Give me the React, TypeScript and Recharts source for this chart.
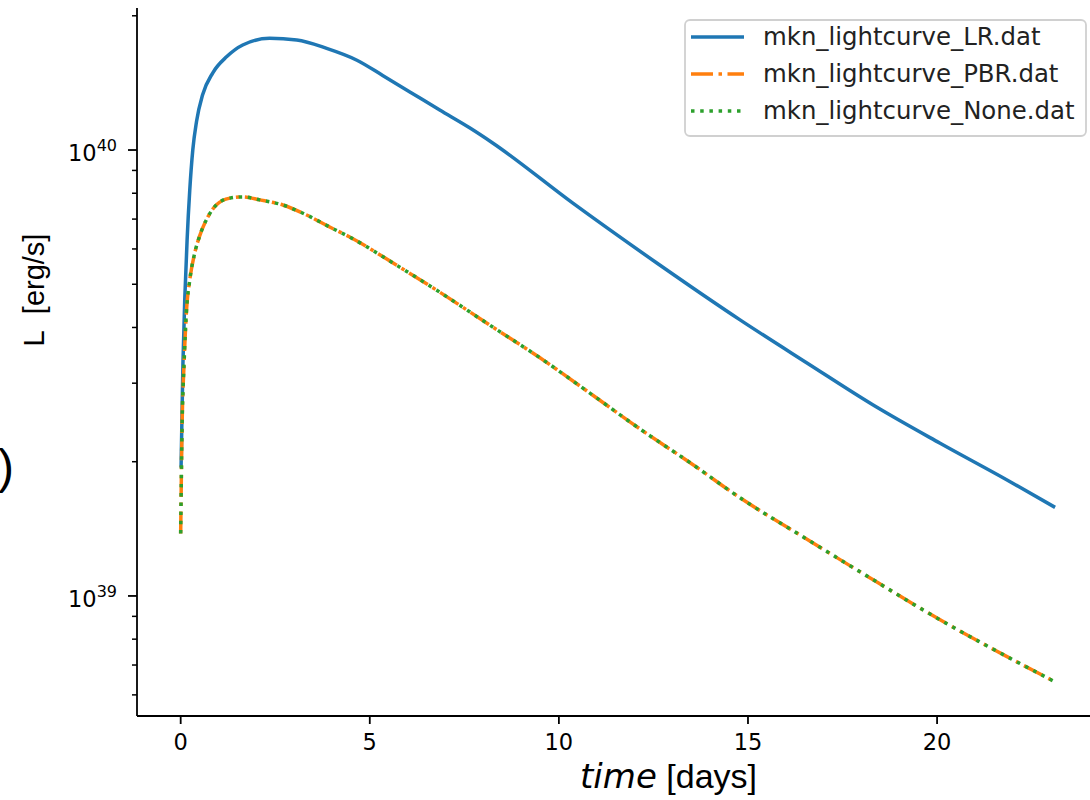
import { Legend, Line, LineChart, XAxis, YAxis } from "recharts"

// light curves (t in days, L in erg/s)
const timeLR = [
  0.01, 0.06, 0.11, 0.17, 0.24, 0.32, 0.42, 0.58, 0.85, 1.22, 1.64, 2.35, 3.07, 3.86, 4.66, 5.34,
  6.06, 6.85, 7.65, 8.25, 10.37, 12.59, 14.79, 16.56, 18.31, 20.08, 21.85, 23.12,
]
const lumLR = [
  1.94e39, 3.33e39, 4.68e39, 6.29e39, 8.13e39, 1.0e40, 1.16e40, 1.33e40, 1.49e40, 1.62e40,
  1.72e40, 1.78e40, 1.765e40, 1.69e40, 1.59e40, 1.47e40, 1.35e40, 1.229e40, 1.12e40, 1.037e40,
  7.6e39, 5.58e39, 4.16e39, 3.33e39, 2.68e39, 2.2e39, 1.82e39, 1.58e39,
]

const timePBR = [
  0, 0.035, 0.09, 0.15, 0.24, 0.37, 0.5, 0.72, 0.94, 1.3, 1.64, 2.09, 2.7, 3.33, 3.94, 4.47, 5.66,
  6.85, 8.17, 9.5, 10.82, 12.14, 13.47, 14.79, 16.56, 18.31, 20.08, 21.85, 23.1,
]
const lumPBR = [
  1.38e39, 2.36e39, 3.33e39, 4.31e39, 5.11e39, 5.87e39, 6.41e39, 7.08e39, 7.53e39, 7.8e39, 7.85e39,
  7.73e39, 7.53e39, 7.15e39, 6.72e39, 6.38e39, 5.55e39, 4.8e39, 4.05e39, 3.42e39, 2.85e39, 2.37e39,
  1.99e39, 1.66e39, 1.34e39, 1.087e39, 8.84e38, 7.31e38, 6.43e38,
]

// None overlaps PBR exactly in the figure
const timeNone = timePBR
const lumNone = [
  1.38e39, 2.36e39, 3.33e39, 4.31e39, 5.11e39, 5.87e39, 6.41e39, 7.08e39, 7.53e39, 7.8e39, 7.85e39,
  7.73e39, 7.53e39, 7.15e39, 6.72e39, 6.38e39, 5.55e39, 4.8e39, 4.05e39, 3.42e39, 2.85e39, 2.37e39,
  1.99e39, 1.66e39, 1.34e39, 1.087e39, 8.84e38, 7.31e38, 6.43e38,
]

const xTicks = [0, 5, 10, 15, 20]
const yTicks = [
  6e38, 7e38, 8e38, 9e38, 1e39, 2e39, 3e39, 4e39, 5e39, 6e39, 7e39, 8e39, 9e39, 1e40, 2e40,
]
const yDomain = [5.38e38, 2.082e40]
const xDomain = [-1.155, 24.255]

const seriesNames = ["mkn_lightcurve_LR.dat", "mkn_lightcurve_PBR.dat", "mkn_lightcurve_None.dat"]
const seriesColors = ["#1f77b4", "#ff7f0e", "#2ca02c"]
const seriesDash = [undefined, "22 5.5 3.5 5.5", "3.5 5.7"]

const toRows = (ts: number[], ls: number[]) => ts.map((t, i) => ({ t, L: ls[i] }))

const FONT = "DejaVu Sans"
const SPINE = 1.8

// log axis tick: labelled 10^n on decades, short unlabelled mark otherwise
function YTick(props: any) {
  const { x, y, payload } = props
  const lg = Math.log10(payload.value)
  const major = Math.abs(lg - Math.round(lg)) < 1e-6
  if (!major) {
    return <line x1={x - 5} x2={x} y1={y} y2={y} stroke="#000" strokeWidth={1.5} />
  }
  return (
    <g>
      <line x1={x - 9} x2={x} y1={y} y2={y} stroke="#000" strokeWidth={SPINE} />
      <text x={x - 20} y={y + 11} textAnchor="end" fontSize={22.5} fontFamily={FONT} fill="#000">
        10
        <tspan fontSize={16} dy={-10}>
          {String(Math.round(lg))}
        </tspan>
      </text>
    </g>
  )
}

function LegendBox() {
  return (
    <svg width={404} height={118} style={{ display: "block" }}>
      <rect
        x={1}
        y={1}
        width={401}
        height={116}
        rx={5}
        fill="rgba(255,255,255,0.8)"
        stroke="#d0d0d0"
        strokeWidth={1.8}
      />
      {seriesNames.map((name, i) => {
        const cy = 18 + i * 37
        return (
          <g key={name}>
            <line
              x1={7}
              x2={60}
              y1={cy}
              y2={cy}
              stroke={seriesColors[i]}
              strokeWidth={3.5}
              strokeDasharray={seriesDash[i]}
            />
            <text x={79} y={cy + 8} fontSize={24.4} fontFamily={FONT} fill="#222">
              {name}
            </text>
          </g>
        )
      })}
    </svg>
  )
}

export default function App() {
  const data = [toRows(timeLR, lumLR), toRows(timePBR, lumPBR), toRows(timeNone, lumNone)]
  return (
    <div
      style={{
        position: "fixed",
        left: 0,
        top: 0,
        width: 1090,
        height: 800,
        overflow: "hidden",
        background: "#fff",
      }}
    >
      <LineChart
        width={1110}
        height={800}
        margin={{ top: 8, right: 12, bottom: 0, left: 0 }}
        style={{ fontFamily: FONT }}
      >
        <XAxis
          dataKey="t"
          type="number"
          domain={xDomain}
          ticks={xTicks}
          allowDataOverflow
          height={84}
          tickSize={8}
          tickMargin={10}
          stroke="#000"
          strokeWidth={SPINE}
          tick={{ fontSize: 22.5, fill: "#000", fontFamily: FONT }}
        />
        <XAxis
          xAxisId="top"
          orientation="top"
          dataKey="t"
          type="number"
          domain={xDomain}
          allowDataOverflow
          height={0}
          tick={false}
          tickLine={false}
          stroke="#000"
          strokeWidth={SPINE}
        />
        <YAxis
          scale="log"
          type="number"
          domain={yDomain}
          allowDataOverflow
          ticks={yTicks}
          width={137}
          tickSize={0}
          tickMargin={0}
          tickLine={false}
          interval={0}
          minTickGap={0}
          stroke="#000"
          strokeWidth={SPINE}
          tick={<YTick />}
        />
        <Legend
          layout="vertical"
          align="center"
          verticalAlign="middle"
          wrapperStyle={{ top: 19, left: 684, width: 404, height: 118 }}
          content={() => <LegendBox />}
        />
        {data.map((rows, i) => (
          <Line
            key={seriesNames[i]}
            data={rows}
            dataKey="L"
            name={seriesNames[i]}
            type="monotone"
            stroke={seriesColors[i]}
            strokeWidth={3.5}
            strokeDasharray={seriesDash[i]}
            dot={false}
            activeDot={false}
            isAnimationActive={false}
          />
        ))}
      </LineChart>
      <svg
        width={1090}
        height={800}
        style={{ position: "absolute", left: 0, top: 0, pointerEvents: "none" }}
      >
        <text
          transform="translate(44 290) rotate(-90)"
          textAnchor="middle"
          fontSize={29}
          fontFamily="Liberation Sans"
          fill="#000"
        >
          {"L\u00a0\u00a0[erg/s]"}
        </text>
        <text x={580} y={788} fontSize={34} fill="#000">
          <tspan fontFamily={FONT} fontStyle="italic">
            time
          </tspan>
          <tspan fontFamily="Liberation Sans">{"\u00a0[days]"}</tspan>
        </text>
        <text x={14} y={483} textAnchor="end" fontSize={48} fontFamily="Liberation Sans" fill="#000">
          )
        </text>
      </svg>
    </div>
  )
}
